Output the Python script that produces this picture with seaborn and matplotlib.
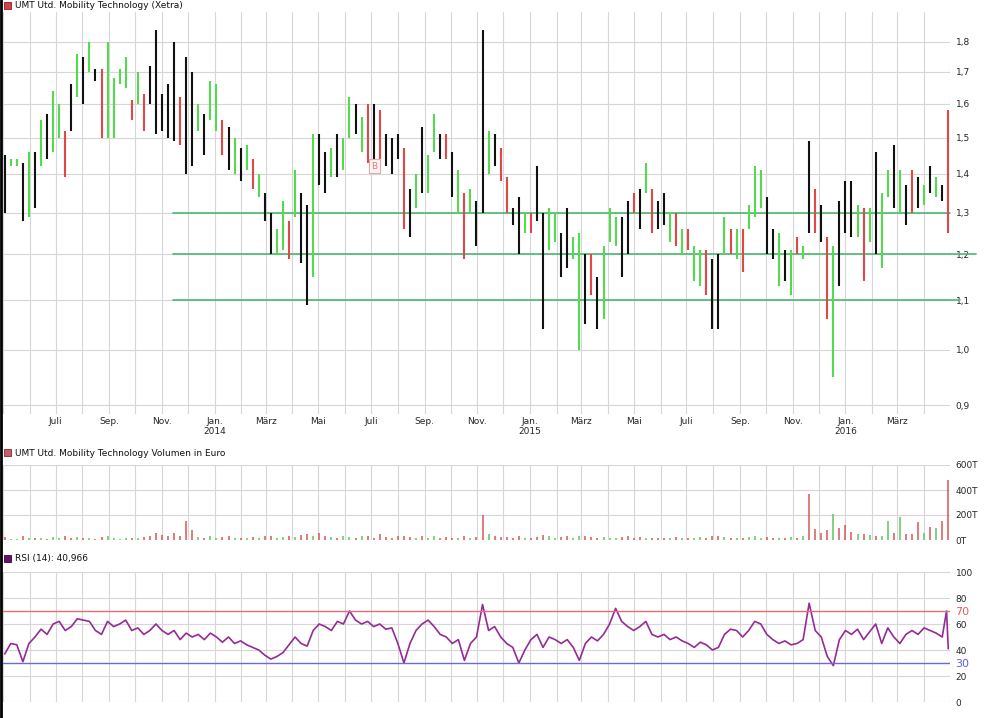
import pandas as pd
import matplotlib.pyplot as plt
from matplotlib.patches import Rectangle
from matplotlib.lines import Line2D
from matplotlib.ticker import FuncFormatter, NullLocator
import seaborn as sns

# weekly bars (Friday of each week), May 2013 - Apr 2016
weeks = pd.date_range("2013-05-03", "2016-04-29", freq="W-FRI")

low = [
    # 2013
    1.30, 1.42, 1.42, 1.28, 1.29,  1.31, 1.42, 1.44, 1.46,  1.50, 1.39, 1.52, 1.62,
    1.60, 1.70, 1.67, 1.50, 1.50,  1.50, 1.66, 1.65, 1.55,  1.60, 1.52, 1.60, 1.51,
    1.52, 1.50, 1.49, 1.48, 1.40,  1.42, 1.52, 1.45, 1.55,
    # 2014
    1.52, 1.45, 1.41, 1.40, 1.38,  1.41, 1.36, 1.34, 1.28,  1.20, 1.20, 1.21, 1.19,
    1.29, 1.18, 1.09, 1.15,  1.37, 1.35, 1.39, 1.39, 1.41,  1.50, 1.51, 1.46, 1.43,
    1.44, 1.44, 1.42, 1.40,  1.44, 1.26, 1.24, 1.31, 1.35,  1.35, 1.46, 1.44, 1.44,
    1.34, 1.30, 1.19, 1.30, 1.22,  1.30, 1.40, 1.42, 1.38,  1.30, 1.27, 1.20, 1.25,
    # 2015
    1.25, 1.28, 1.04, 1.21, 1.23,  1.15, 1.17, 1.19, 1.00,  1.05, 1.11, 1.04, 1.06,
    1.23, 1.22, 1.15, 1.20,  1.30, 1.26, 1.35, 1.25, 1.26,  1.27, 1.23, 1.22, 1.20,
    1.21, 1.14, 1.13, 1.11, 1.04,  1.04, 1.20, 1.20, 1.19,  1.16, 1.26, 1.29, 1.31,
    1.20, 1.19, 1.13, 1.14, 1.11,  1.20, 1.19, 1.25, 1.25,  1.23, 1.06, 0.95, 1.13,
    # 2016
    1.25, 1.24, 1.24, 1.14, 1.23,  1.20, 1.17, 1.34, 1.31,  1.30, 1.27, 1.30, 1.31,
    1.32, 1.35, 1.34, 1.33, 1.25,
]

high = [
    # 2013
    1.45, 1.44, 1.44, 1.43, 1.46,  1.46, 1.55, 1.57, 1.64,  1.60, 1.52, 1.66, 1.76,
    1.75, 1.80, 1.71, 1.71, 1.80,  1.68, 1.71, 1.75, 1.61,  1.70, 1.63, 1.72, 1.84,
    1.63, 1.66, 1.80, 1.62, 1.75,  1.70, 1.60, 1.57, 1.67,
    # 2014
    1.66, 1.55, 1.53, 1.50, 1.47,  1.48, 1.44, 1.40, 1.35,  1.30, 1.26, 1.33, 1.28,
    1.41, 1.35, 1.32, 1.51,  1.51, 1.46, 1.47, 1.51, 1.50,  1.62, 1.60, 1.56, 1.60,
    1.60, 1.58, 1.51, 1.50,  1.51, 1.47, 1.36, 1.40, 1.53,  1.45, 1.57, 1.51, 1.51,
    1.46, 1.41, 1.35, 1.36, 1.33,  1.84, 1.52, 1.51, 1.47,  1.39, 1.31, 1.34, 1.30,
    # 2015
    1.30, 1.42, 1.30, 1.31, 1.30,  1.25, 1.31, 1.24, 1.25,  1.20, 1.20, 1.15, 1.22,
    1.31, 1.29, 1.29, 1.33,  1.35, 1.36, 1.43, 1.36, 1.33,  1.35, 1.30, 1.30, 1.26,
    1.26, 1.22, 1.21, 1.21, 1.19,  1.20, 1.29, 1.26, 1.26,  1.26, 1.32, 1.42, 1.41,
    1.34, 1.26, 1.25, 1.21, 1.21,  1.24, 1.22, 1.49, 1.36,  1.32, 1.24, 1.22, 1.33,
    # 2016
    1.38, 1.38, 1.32, 1.31, 1.31,  1.46, 1.35, 1.41, 1.48,  1.41, 1.37, 1.41, 1.39,
    1.37, 1.42, 1.39, 1.37, 1.58,
]

# g = up, r = down, k = black bar
bar_code = (
    "kggkg kgkg grkg kgkrg gggr grkk kkkrk kgkg"
    " grkgk grgk kggr gkkg kkgkg gkgr krkk krkgk ggkr kgrgk kgkr rkkg"
    " rkkgg kkgg krkg ggkk rkgrk kgrg rggrk kgrg rggg kkgkg rgkr krgk"
    " kkgrg kggk gkrk gkgkr"
).replace(" ", "")

volume = [
    # 2013 (T = thousand euro)
    25, 10, 8, 30, 20,  15, 20, 12, 25,  18, 30, 15, 25,  20, 15, 10, 25, 30,
    20, 10, 15, 20,  15, 25, 30, 60,  40, 35, 60, 30, 155,  80, 25, 20, 30,
    # 2014
    20, 25, 30, 15, 20,  15, 25, 20, 30,  35, 20, 25, 30,  25, 40, 45, 35,
    60, 30, 25, 20, 30,  25, 20, 35, 30,  20, 45, 25, 20,  30, 35, 25, 20, 30,
    20, 30, 15, 25,  20, 15, 30, 20, 25,  200, 50, 30, 25,  25, 20, 35, 15,
    # 2015
    20, 25, 40, 30, 20,  25, 30, 20, 35,  30, 25, 20, 25,  20, 15, 25, 30,
    20, 25, 20, 15, 20,  15, 20, 25, 15,  20, 15, 25, 20, 30,  35, 25, 20, 15,
    20, 25, 30, 20,  25, 20, 15, 20, 25,  20, 30, 370, 90,  60, 80, 210, 95,
    # 2016
    120, 67, 45, 50, 40,  30, 35, 155, 60,  187, 50, 45, 147,  60, 107, 93, 155, 480,
]

rsi = [
    # 2013
    37, 45, 44, 31, 45,  50, 56, 52, 60,  62, 55, 58, 64,  63, 62, 55, 52, 62,
    58, 60, 63, 55,  57, 52, 55, 60,  55, 52, 55, 48, 53,  50, 52, 48, 53,
    # 2014
    50, 46, 50, 45, 47,  44, 42, 40, 36,  33, 35, 38, 44,  50, 45, 43, 55,
    60, 58, 55, 62, 60,  70, 63, 60, 62,  58, 60, 56, 57,  45, 30, 45, 55, 60,
    63, 58, 52, 50,  45, 48, 32, 45, 50,  75, 55, 58, 50,  45, 42, 30, 40,
    # 2015
    48, 52, 42, 50, 48,  45, 48, 42, 32,  45, 50, 47, 52,  60, 72, 62, 58,
    55, 58, 62, 52, 50,  52, 48, 50, 47,  45, 42, 46, 44, 40,  42, 52, 56, 55,
    50, 55, 62, 60,  52, 48, 45, 47, 44,  45, 48, 76, 55,  50, 35, 28, 48,
    # 2016
    55, 52, 56, 48, 54,  60, 45, 57, 50,  45, 52, 55, 52,  57, 55, 53, 50,
    70, 40.966,
]
rsi_dates = list(weeks[:-1]) + [pd.Timestamp("2016-04-27"), pd.Timestamp("2016-04-29")]

support_levels = [1.3, 1.2, 1.1]
support_start = pd.Timestamp("2013-11-14")
support_end = [pd.Timestamp("2016-05-01"), pd.Timestamp("2016-05-31"), pd.Timestamp("2016-05-12")]

price_ticks = [0.9, 1.0, 1.1, 1.2, 1.3, 1.4, 1.5, 1.6, 1.7, 1.8]
volume_ticks = [0, 200, 400, 600]
rsi_ticks = [0, 20, 30, 40, 60, 70, 80, 100]

month_names = {1: "Jan.", 3: "März", 5: "Mai", 7: "Juli", 9: "Sep.", 11: "Nov."}
label_months = pd.date_range("2013-07-01", "2016-03-01", freq="2MS")
all_months = pd.date_range("2013-05-01", "2016-05-01", freq="MS")

df = pd.DataFrame({"week": weeks, "low": low, "high": high, "code": list(bar_code), "volume": volume})

sns.set_theme(style="white")
plt.rcParams["font.family"] = ["DejaVu Sans"]

bar_colors = {"g": "#55da4f", "r": "#e04848", "k": "#111111"}
vol_colors = {"g": "#5cc85c", "r": "#d45858", "k": "#d45858"}
grid_c = "#d6d6d6"

fig = plt.figure(figsize=(9.91, 7.18), dpi=100)
fig.patch.set_facecolor("white")

W, H = 991, 718
left, right = 3 / W, 950 / W
ax = fig.add_axes([left, 1 - 414 / H, right - left, 402 / H])
axv = fig.add_axes([left, 1 - 540 / H, right - left, 75 / H], sharex=ax)
axr = fig.add_axes([left, 1 - 702 / H, right - left, 130 / H], sharex=ax)

# price bars
ax.set_yscale("log")
ax.vlines(df["week"], df["low"], df["high"], colors=[bar_colors[c] for c in df["code"]], lw=1.5)
for lvl, end in zip(support_levels, support_end):
    ax.plot([support_start, end], [lvl, lvl], color="#4cb870", lw=1.2, clip_on=False, zorder=1)
ax.text(pd.Timestamp("2014-07-05"), 1.42, "B", fontsize=6.5, color="#e07878", ha="center", va="center",
        bbox=dict(boxstyle="square,pad=0.25", fc="#fff4f4", ec="#e8a8a8", lw=0.8))
ax.set_ylim(0.885, 1.906)
ax.set_yticks(price_ticks)
ax.yaxis.set_minor_locator(NullLocator())
ax.yaxis.set_major_formatter(FuncFormatter(lambda v, p: f"{v:.1f}".replace(".", ",")))

# volume
axv.vlines(df["week"], 0, df["volume"], colors=[vol_colors[c] for c in df["code"]], lw=1.1)
axv.set_ylim(0, 600)
axv.set_yticks(volume_ticks)
axv.yaxis.set_major_formatter(FuncFormatter(lambda v, p: f"{v:.0f}T"))

# RSI
sns.lineplot(x=rsi_dates, y=rsi, ax=axr, color="#962a96", lw=1.2)
axr.axhline(70, color="#e07070", lw=1)
axr.axhline(30, color="#6a6ae0", lw=1)
axr.set_ylim(0, 100)
axr.set_yticks(rsi_ticks)

ax.set_xlim(all_months[0], all_months[-1])
ax.set_xticks(label_months)
ax.set_xticks(all_months, minor=True)
ax.set_xticklabels([month_names[d.month] + (f"\n{d.year}" if d.month == 1 else "") for d in label_months])

for a in (ax, axv, axr):
    for s in a.spines.values():
        s.set_visible(False)
    a.set_facecolor("white")
    a.grid(which="both", axis="x", color=grid_c, lw=0.8)
    a.grid(which="major", axis="y", color=grid_c, lw=0.8)
    a.set_axisbelow(True)
    a.yaxis.tick_right()
    a.tick_params(axis="both", which="both", length=0, labelsize=6.5, pad=4)
    a.set_xlabel("")
    a.set_ylabel("")
ax.tick_params(axis="x", pad=2)
axv.tick_params(labelbottom=False)
axr.tick_params(labelbottom=False)

for lab in axr.get_yticklabels():
    if lab.get_text() == "70":
        lab.set_color("#e06060")
        lab.set_fontsize(8)
    elif lab.get_text() == "30":
        lab.set_color("#6060d8")
        lab.set_fontsize(8)
for t, line in zip(axr.get_ygridlines(), rsi_ticks):
    if line in (30, 70):
        t.set_visible(False)

# panel titles
titles = [
    ("UMT Utd. Mobility Technology (Xetra)", 5.5, "#d8404c", "#802028"),
    ("UMT Utd. Mobility Technology Volumen in Euro", 453, "#cc5b6b", "#7a2a35"),
    ("RSI (14): 40,966", 558, "#6a1068", "#3a0838"),
]
for text, y, fc, ec in titles:
    fig.add_artist(Rectangle((4 / W, 1 - (y + 3.5) / H), 7 / W, 7 / H, transform=fig.transFigure,
                             fc=fc, ec=ec, lw=0.6))
    fig.text(15 / W, 1 - y / H, text, fontsize=6.5, va="center", ha="left", color="#111111")

fig.add_artist(Line2D([0.001, 0.001], [0, 1], transform=fig.transFigure, color="black", lw=2))

plt.savefig("out.png", dpi=100)
